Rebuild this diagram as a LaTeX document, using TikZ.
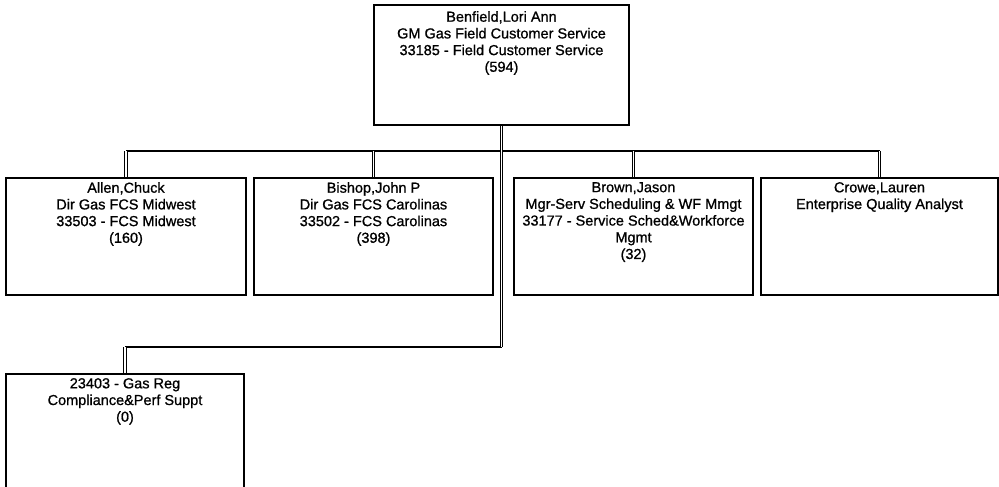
\documentclass[tikz,border=0pt]{standalone}
\usepackage{fontspec}
\setmainfont{Liberation Sans}[BoldFont={Liberation Sans}, BoldFeatures={FakeBold=0.9}]
\usetikzlibrary{positioning}

\tikzset{
  orgbox/.style={draw, line width=2pt, anchor=north west, minimum width=240pt, minimum height=117pt, inner sep=0pt},
  orgtext/.style={font=\fontsize{14.5}{16.7}\selectfont\bfseries, align=center, inner sep=0pt},
  bus/.style={line width=1.6pt},
  stub/.style={double, double distance=1.6pt, line width=1pt}
}

\begin{document}
\begin{tikzpicture}[x=1pt, y=-1pt]
  \useasboundingbox (0,0) rectangle (999,487);

  % head of the unit
  \node[orgbox, minimum width=255pt, minimum height=120pt] (benfield) at (373,4) {};
  \node[orgtext, below=7pt of benfield.north] (benfieldtxt) {Benfield,Lori Ann\\GM Gas Field Customer Service\\33185 - Field Customer Service\\(594)};

  % direct reports
  \node[orgbox] (allen) at (5,177) {};
  \node[orgtext, below=5pt of allen.north] (allentxt) {Allen,Chuck\\Dir Gas FCS Midwest\\33503 - FCS Midwest\\(160)};

  \node[orgbox, minimum width=239pt] (bishop) at (253,177) {};
  \node[orgtext, below=5pt of bishop.north] (bishoptxt) {Bishop,John P\\Dir Gas FCS Carolinas\\33502 - FCS Carolinas\\(398)};

  \node[orgbox, minimum width=239pt] (brown) at (513,177) {};
  \node[orgtext, below=5pt of brown.north] (browntxt) {Brown,Jason\\Mgr-Serv Scheduling \& WF Mmgt\\33177 - Service Sched\&Workforce\\Mgmt\\(32)};

  \node[orgbox, minimum width=237pt] (crowe) at (760,177) {};
  \node[orgtext, below=5pt of crowe.north] (crowetxt) {Crowe,Lauren\\Enterprise Quality Analyst};

  % department without a manager
  \node[orgbox, minimum width=238pt] (gasreg) at (5,373) {};
  \node[orgtext, below=5pt of gasreg.north] (gasregtxt) {23403 - Gas Reg\\Compliance\&Perf Suppt\\(0)};

  % connectors
  \coordinate (bus) at (0,151);
  \coordinate (elbow) at (0,347);
  \draw[bus] (bus -| allen.north) -- (bus -| crowe.north);
  \foreach \n in {allen, bishop, brown, crowe}
    \draw[stub] (\n.north) -- (\n.north |- bus);
  \draw[bus] (elbow -| benfield.south) -- (elbow -| gasreg.north);
  \draw[stub] (benfield.south) -- (benfield.south |- elbow);
  \draw[stub] (gasreg.north) -- (gasreg.north |- elbow);
\end{tikzpicture}
\end{document}
